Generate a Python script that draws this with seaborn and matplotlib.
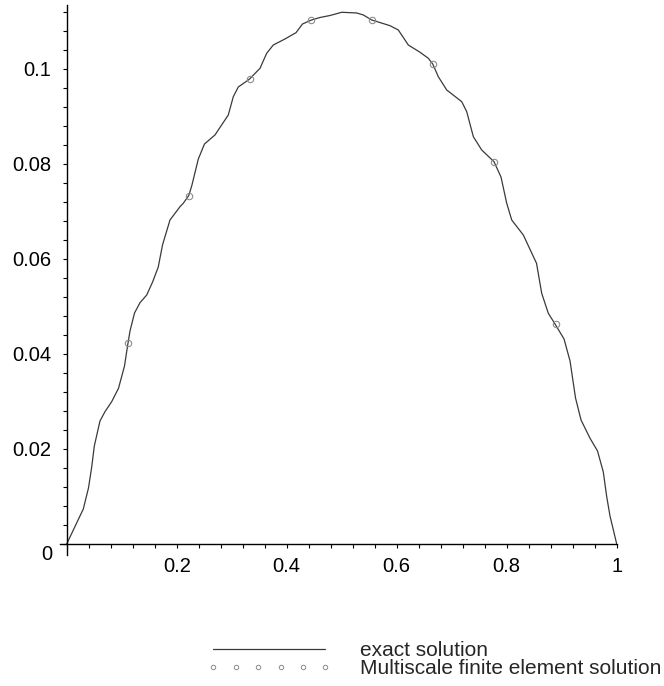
import matplotlib
matplotlib.use("Agg")
import matplotlib.pyplot as plt
from matplotlib.lines import Line2D
from matplotlib.ticker import FixedLocator, MultipleLocator
import numpy as np
import pandas as pd
import seaborn as sns

# Exact solution of the oscillating-coefficient problem on [0, 1]
x_exact = [0.0, 0.0302, 0.0396, 0.0455, 0.0502, 0.0605, 0.0696, 0.0818, 0.0942,
           0.1051, 0.1109, 0.1151, 0.1233, 0.1333, 0.1455, 0.1564, 0.1665, 0.1742,
           0.1878, 0.2060, 0.2120, 0.2218, 0.2273, 0.2393, 0.2505, 0.2696, 0.2938,
           0.3029, 0.3120, 0.3320, 0.3515, 0.3636, 0.3756, 0.3969, 0.4169, 0.4287,
           0.4436, 0.4605, 0.4787, 0.5000, 0.5273, 0.5393, 0.5545, 0.5878, 0.6029,
           0.6211, 0.6424, 0.6575, 0.6655, 0.6756, 0.6909, 0.7182, 0.7273, 0.7393,
           0.7545, 0.7769, 0.7896, 0.8000, 0.8091, 0.8302, 0.8542, 0.8636, 0.8756,
           0.8878, 0.9042, 0.9151, 0.9251, 0.9351, 0.9515, 0.9651, 0.9756, 0.9818,
           0.9878, 1.0]
u_exact = [0.0, 0.00737, 0.01179, 0.01621, 0.02063, 0.02589, 0.02785, 0.02996, 0.03278,
           0.03747, 0.04189, 0.04484, 0.04863, 0.05080, 0.05242, 0.05522, 0.05832, 0.06295,
           0.06821, 0.07101, 0.07173, 0.07333, 0.07537, 0.08105, 0.08421, 0.08611, 0.09032,
           0.09417, 0.09621, 0.09783, 0.10015, 0.10331, 0.10505, 0.10632, 0.10764, 0.10947,
           0.11025, 0.11084, 0.11126, 0.11194, 0.11179, 0.11137, 0.11032, 0.10912, 0.10821,
           0.10505, 0.10352, 0.10225, 0.10105, 0.09838, 0.09558, 0.09312, 0.09101, 0.08575,
           0.08295, 0.08048, 0.07726, 0.07173, 0.06821, 0.06505, 0.05909, 0.05278, 0.04857,
           0.04632, 0.04316, 0.03853, 0.03074, 0.02611, 0.02225, 0.01958, 0.01516, 0.00996,
           0.00589, 0.0]

# Multiscale finite element nodal values (coarse mesh, h = 1/9)
x_msfem = [1/9, 2/9, 3/9, 4/9, 5/9, 6/9, 7/9, 8/9]
u_msfem = [0.04225, 0.07333, 0.09783, 0.11025, 0.11038, 0.10112, 0.08050, 0.04632]

x_ticks = [0.2, 0.4, 0.6, 0.8, 1.0]
x_ticklabels = ["0.2", "0.4", "0.6", "0.8", "1"]
y_ticks = [0.02, 0.04, 0.06, 0.08, 0.1]
y_ticklabels = ["0.02", "0.04", "0.06", "0.08", "0.1"]

sns.set_theme(style="white")
plt.rcParams["font.family"] = ["Liberation Sans", "DejaVu Sans"]

df_exact = pd.DataFrame({"x": x_exact, "u": u_exact})
df_ms = pd.DataFrame({"x": x_msfem, "u": u_msfem})

fig = plt.figure(figsize=(6.64, 6.86), dpi=100)
ax = fig.add_axes([0.0905, 0.19096, 0.8383, 0.80175])

line_color = "#3a3a3a"
mark_color = "#8c8c8c"

sns.lineplot(data=df_exact, x="x", y="u", ax=ax, color=line_color,
             linewidth=0.9, sort=False, legend=False)
ax.plot(df_ms["x"], df_ms["u"], linestyle="none", marker="o", markersize=4.6,
        markerfacecolor="none", markeredgecolor=mark_color, markeredgewidth=0.8)

ax.set_xlim(-0.012, 1.0)
ax.set_ylim(-0.002316, 0.11347)
ax.set_xlabel("")
ax.set_ylabel("")

# Axes cross at the origin
for side in ["top", "right"]:
    ax.spines[side].set_visible(False)
ax.spines["left"].set_position(("data", 0))
ax.spines["bottom"].set_position(("data", 0))
for side in ["left", "bottom"]:
    ax.spines[side].set_color("black")
    ax.spines[side].set_linewidth(1.0)

ax.xaxis.set_major_locator(FixedLocator(x_ticks))
ax.set_xticklabels(x_ticklabels)
ax.xaxis.set_minor_locator(MultipleLocator(0.04))
ax.yaxis.set_major_locator(FixedLocator(y_ticks))
ax.set_yticklabels(y_ticklabels)
ax.yaxis.set_minor_locator(MultipleLocator(0.004))

ax.tick_params(axis="both", which="both", direction="out", color="black",
               width=0.8, length=3, labelsize=14.5, labelcolor="black",
               left=True, bottom=True)
ax.tick_params(axis="y", which="major", pad=8)
ax.tick_params(axis="x", which="major", pad=6)
ax.annotate("0", xy=(0, 0), xycoords="data", xytext=(-14, -10),
            textcoords="offset pixels", ha="right", va="center",
            fontsize=14.5, color="black")

handles = [
    Line2D([], [], color=line_color, linewidth=0.9),
    Line2D([], [], linestyle="none", marker="o", markersize=3.2,
           markerfacecolor="none", markeredgecolor=mark_color, markeredgewidth=0.7),
]
labels = ["exact solution", "Multiscale finite element solution"]
fig.legend(handles, labels, loc="upper left",
           bbox_to_anchor=(207 / 664, 1 - 641 / 686), bbox_transform=fig.transFigure,
           frameon=False, numpoints=6, handlelength=5.98, handletextpad=1.38,
           labelspacing=-0.03, borderpad=0.0, borderaxespad=0.0,
           prop={"family": ["Liberation Sans", "DejaVu Sans"], "size": 15})

fig.savefig("out.png", dpi=100, facecolor="white")
